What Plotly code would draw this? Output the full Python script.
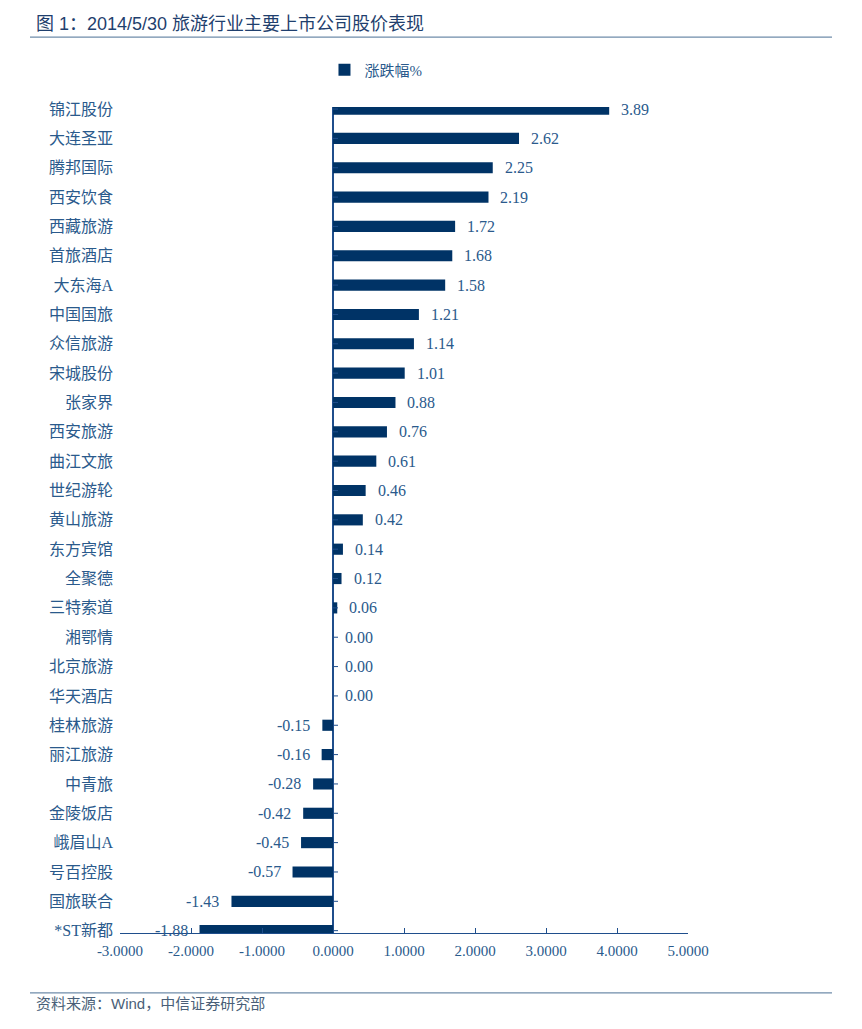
import plotly.graph_objects as go

# 2014/5/30 旅游行业主要上市公司涨跌幅 (%)
companies = [
    "锦江股份", "大连圣亚", "腾邦国际", "西安饮食", "西藏旅游", "首旅酒店", "大东海A",
    "中国国旅", "众信旅游", "宋城股份", "张家界", "西安旅游", "曲江文旅", "世纪游轮",
    "黄山旅游", "东方宾馆", "全聚德", "三特索道", "湘鄂情", "北京旅游", "华天酒店",
    "桂林旅游", "丽江旅游", "中青旅", "金陵饭店", "峨眉山A", "号百控股", "国旅联合", "*ST新都",
]
changes = [
    3.89, 2.62, 2.25, 2.19, 1.72, 1.68, 1.58,
    1.21, 1.14, 1.01, 0.88, 0.76, 0.61, 0.46,
    0.42, 0.14, 0.12, 0.06, 0.00, 0.00, 0.00,
    -0.15, -0.16, -0.28, -0.42, -0.45, -0.57, -1.43, -1.88,
]
x_ticks = [-3, -2, -1, 0, 1, 2, 3, 4, 5]
x_tick_labels = [f"{v:.4f}" for v in x_ticks]

NAVY = "#003366"
AXIS = "#1F4E8C"
LABEL = "#2A5A8C"
SERIF = "Liberation Serif, Times New Roman, Noto Sans CJK SC"
SANS = "Liberation Sans, Noto Sans CJK SC"

pos = list(range(len(companies)))
last = len(companies) - 1

fig = go.Figure()
fig.add_trace(
    go.Bar(
        x=changes,
        y=pos,
        orientation="h",
        width=0.38,
        marker=dict(color=NAVY, line=dict(width=0)),
        name="涨跌幅%",
        showlegend=True,
    )
)

# data labels
for i, v in enumerate(changes):
    fig.add_annotation(
        x=v, y=i, xref="x", yref="y",
        text=f"{v:.2f}",
        showarrow=False,
        xanchor="left" if v >= 0 else "right",
        xshift=10 if v >= 0 else -10,
        font=dict(family=SERIF, size=16, color=LABEL),
    )

# small ticks on the vertical axis at each category
for i in pos:
    fig.add_shape(
        type="line", xref="x", yref="y", xsizemode="pixel", xanchor=0,
        x0=0, x1=5, y0=i, y1=i,
        line=dict(color=AXIS, width=1),
    )

# title, rules and source (paper coords are relative to the plot area)
fig.add_annotation(
    x=-0.151, y=1.1005, xref="paper", yref="paper", xanchor="left", yanchor="middle",
    text="图 1：2014/5/30 旅游行业主要上市公司股价表现", showarrow=False,
    font=dict(family=SANS, size=18, color="#1F3F6E"),
)
fig.add_shape(type="line", xref="paper", yref="paper", x0=-0.1585, x1=1.2535, y0=1.0847, y1=1.0847,
              line=dict(color="#6F8CAA", width=1.2))
fig.add_shape(type="line", xref="paper", yref="paper", x0=-0.1585, x1=1.2535, y0=-0.0726, y1=-0.0726,
              line=dict(color="#6F8CAA", width=1.2))
fig.add_annotation(
    x=-0.151, y=-0.0855, xref="paper", yref="paper", xanchor="left", yanchor="middle",
    text="资料来源：Wind，中信证券研究部", showarrow=False,
    font=dict(family=SANS, size=15, color="#4A5F78"),
)

# the page body adds an 8px offset, so margins are shifted to compensate
fig.update_layout(
    width=862,
    height=1029,
    paper_bgcolor="white",
    plot_bgcolor="white",
    margin=dict(l=112, r=182, t=99, b=104, autoexpand=False),
    legend=dict(
        orientation="h", x=0.36, y=1.0448, xref="paper", yref="paper",
        xanchor="left", yanchor="middle",
        font=dict(family=SERIF, size=15, color=LABEL),
        bgcolor="rgba(0,0,0,0)",
        itemwidth=30,
    ),
    xaxis=dict(
        range=[-3, 5],
        tickvals=x_ticks,
        ticktext=x_tick_labels,
        ticks="inside",
        ticklen=5,
        tickcolor=AXIS,
        showline=True,
        linecolor=AXIS,
        linewidth=1.2,
        showgrid=False,
        zeroline=True,
        zerolinecolor=AXIS,
        zerolinewidth=1.5,
        tickfont=dict(family=SERIF, size=15, color=LABEL),
        ticklabelstandoff=4,
        automargin=False,
    ),
    yaxis=dict(
        range=[last + 0.08, -0.07],
        tickvals=pos,
        ticktext=companies,
        ticks="",
        showline=False,
        showgrid=False,
        zeroline=False,
        tickfont=dict(family=SERIF, size=16, color=LABEL),
        ticklabelstandoff=6,
        automargin=False,
    ),
)

fig.write_html("out.html")
